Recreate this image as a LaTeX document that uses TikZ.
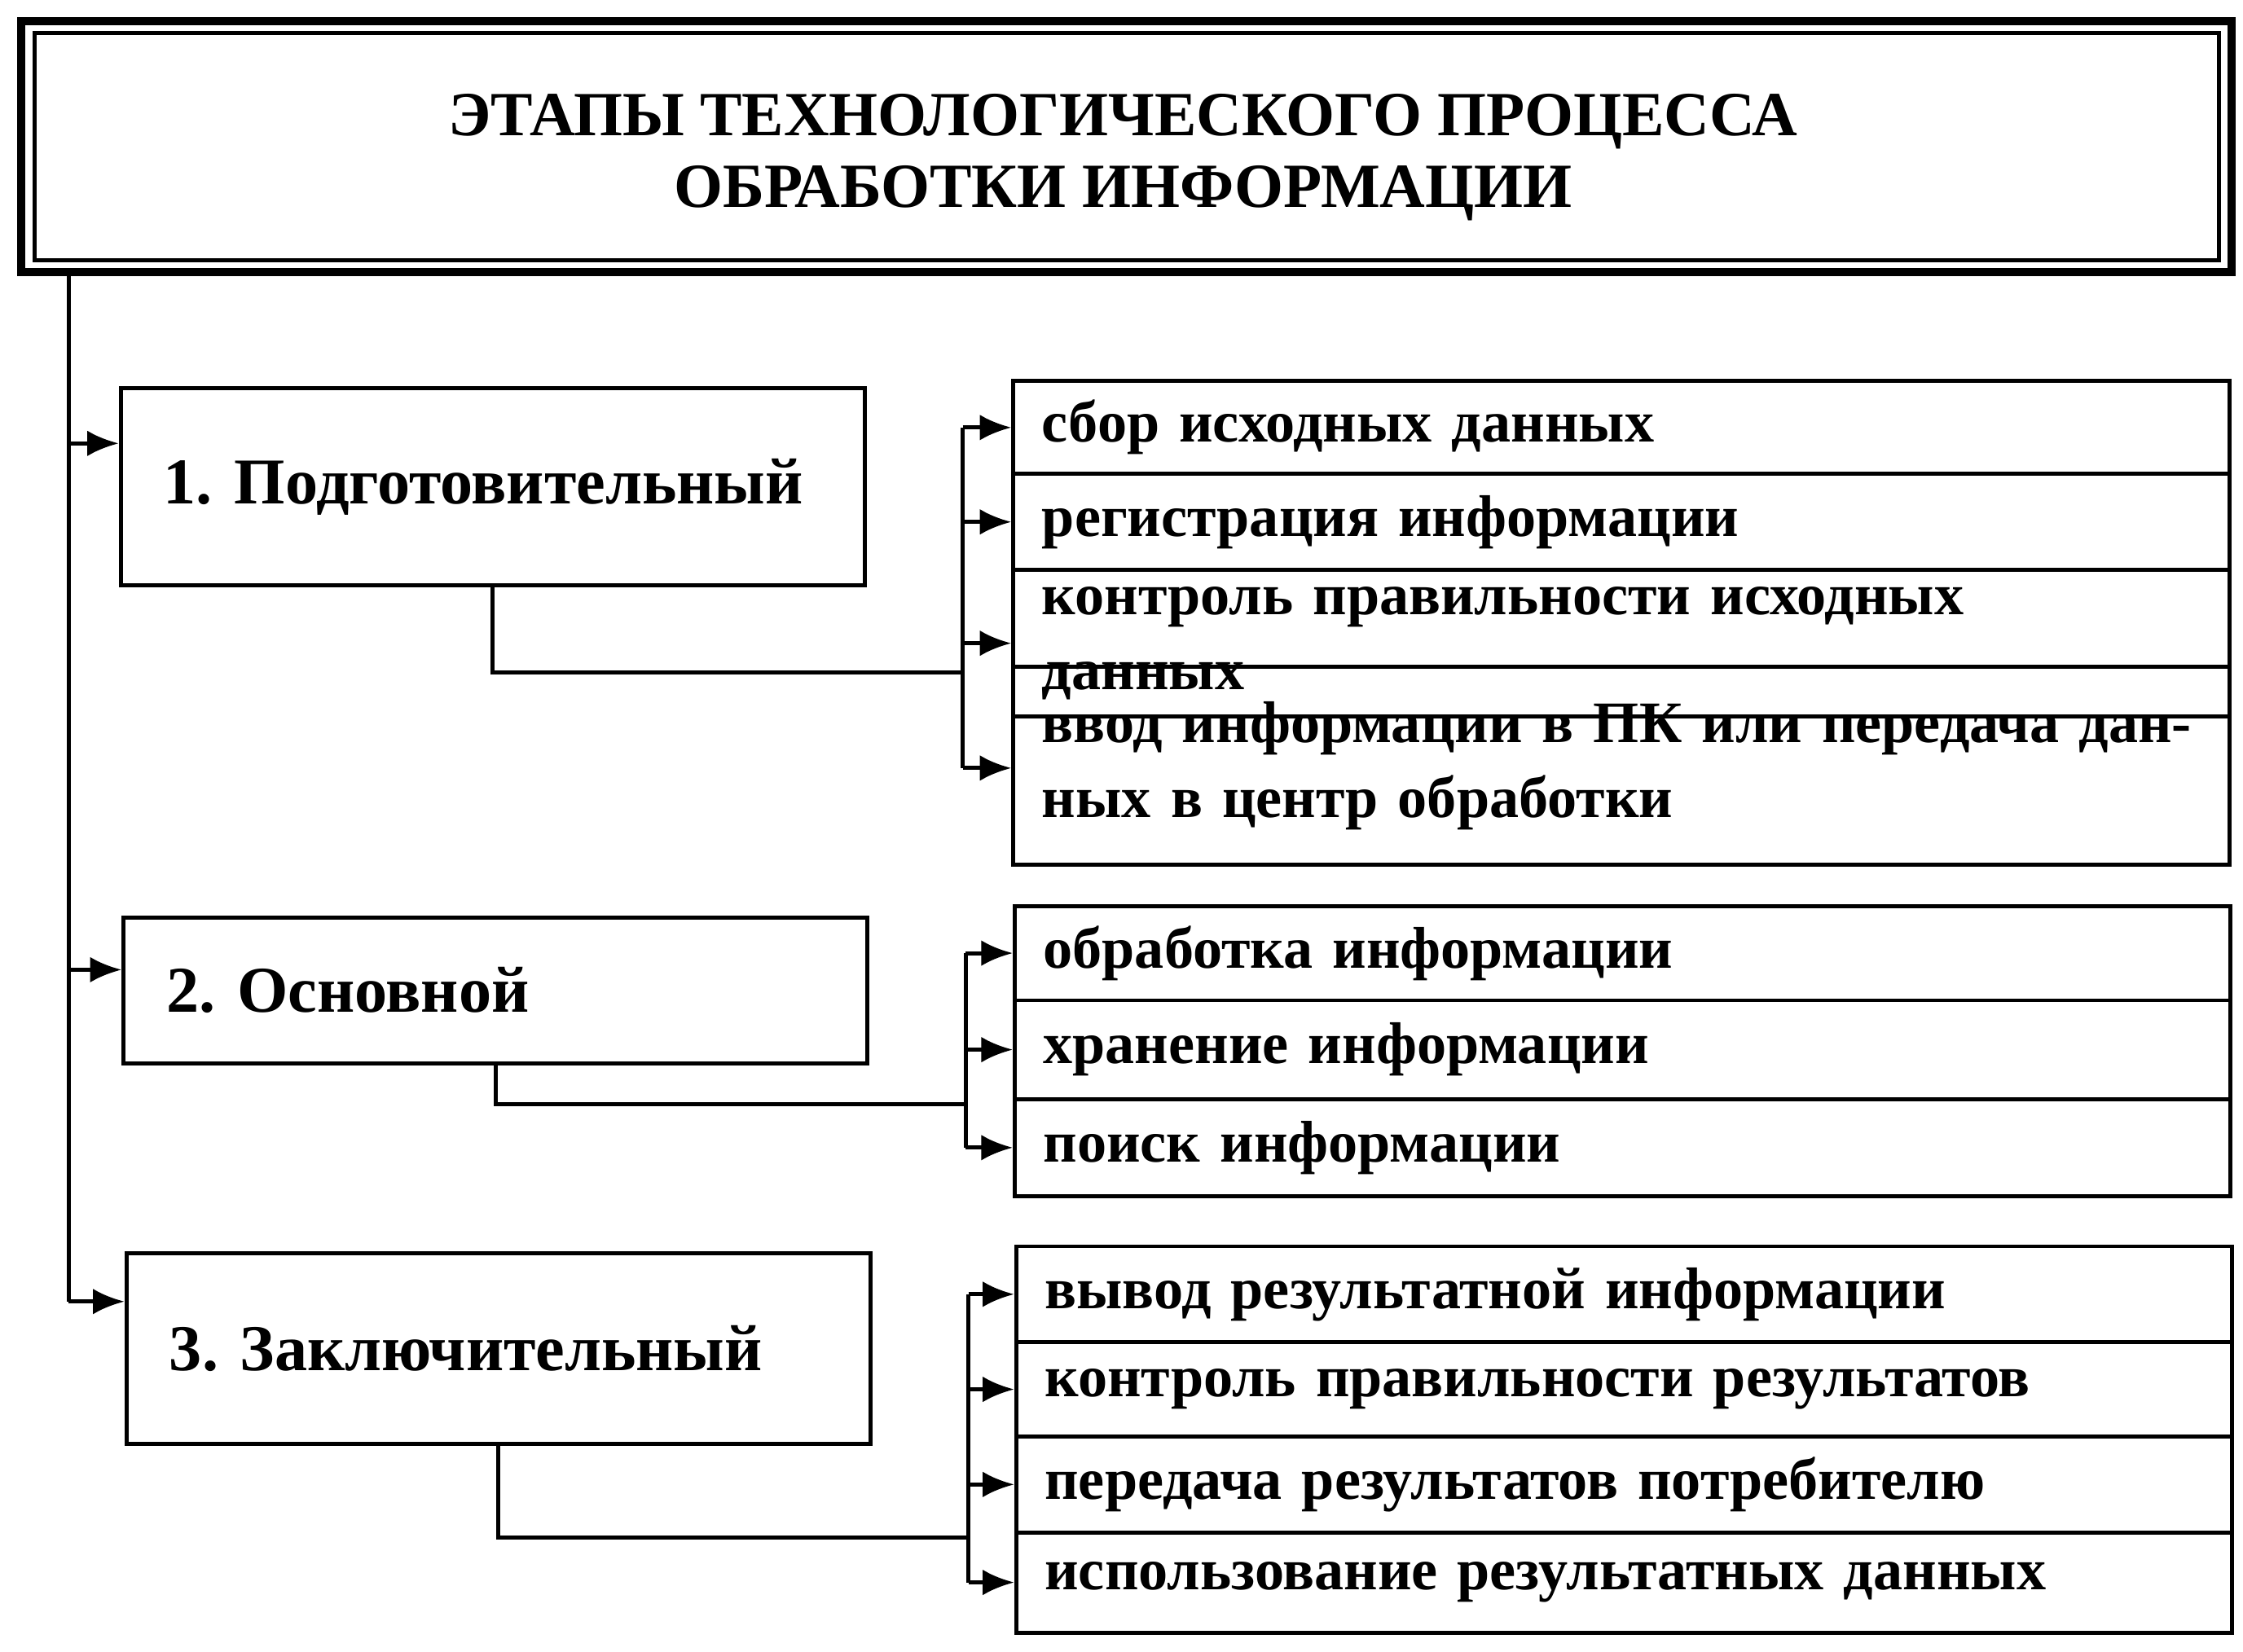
\documentclass[tikz,border=0pt]{standalone}
\usepackage{fontspec}
\setmainfont{Liberation Serif}
\frenchspacing
\usetikzlibrary{arrows.meta,positioning}
\tikzset{
  stage/.style={draw, line width=0.8pt, anchor=north west, font=\fontsize{13}{16}\selectfont\bfseries,
    align=left, inner xsep=0.3cm, text width=4.6cm, minimum height=#1},
  item/.style={draw, line width=0.8pt, anchor=north west, font=\fontsize{11.7}{15}\selectfont\bfseries,
    align=left, inner xsep=0.2cm, text width=8.1cm, minimum height=#1},
  arr/.style={-{Latex[length=2.2mm,width=1.8mm]}, line width=0.8pt},
  link/.style={line width=0.8pt}
}
\begin{document}
\begin{tikzpicture}[x=0.1mm, y=-0.1mm]
    \useasboundingbox (0,0) rectangle (1568,1155);
    % Title
    \draw[line width=1.6pt] (15,15) rectangle (1560,190);
    \draw[line width=0.8pt] (24,23) rectangle (1551,182);
    \node[font=\fontsize{12.5}{14.3}\selectfont\bfseries, align=center] (title) at (785,110)
        {ЭТАПЫ ТЕХНОЛОГИЧЕСКОГО ПРОЦЕССА\\ОБРАБОТКИ ИНФОРМАЦИИ};
    \coordinate (top) at (48,190);
    
    % Stages
    \node[stage=1.38cm] (s1) at (83,270) {1. Подготовительный};
    \node[stage=1.02cm] (s2) at (85,640) {2. Основной};
    \node[stage=1.33cm] (s3) at (87,875) {3. Заключительный};
    
    % Steps of stage 1
    \node[item=0.65cm] (a1) at (707,265) {сбор исходных данных};
    \node[item=0.67cm] (a2) at (707,330) {регистрация информации};
    \node[item=0.68cm] (a3) at (707,397) {контроль правильности исходных\ \ данных};
    \node[item=1.38cm] (a4) at (707,465) {ввод информации в ПК или передача дан-\\ных в центр обработки};
    
    % Steps of stage 2
    \node[item=0.66cm] (b1) at (708,632) {обработка информации};
    \node[item=0.69cm] (b2) at (708,698) {хранение информации};
    \node[item=0.68cm] (b3) at (708,767) {поиск информации};
    
    % Steps of stage 3
    \node[item=0.67cm] (c1) at (709,870) {вывод результатной информации};
    \node[item=0.66cm] (c2) at (709,937) {контроль правильности результатов};
    \node[item=0.67cm] (c3) at (709,1003) {передача результатов потребителю};
    \node[item=0.70cm] (c4) at (709,1070) {использование результатных данных};
    
    % Main line
    \draw[link] (top) -- (48,910);
    \draw[arr] (48,310) -- (s1.west |- 0,310);
    \draw[arr] (48,678) -- (s2.west |- 0,678);
    \draw[arr] (48,910) -- (s3.west |- 0,910);
    
    % Buses
    \coordinate (j1) at (673,470);
    \coordinate (j2) at (675,772);
    \coordinate (j3) at (677,1075);
    \draw[link] (s1.south) |- (j1);
    \draw[link] (s2.south) |- (j2);
    \draw[link] (s3.south) |- (j3);
    \draw[link] (j1 |- a1.west) -- (j1 |- 0,537);
    \draw[link] (j2 |- b1.west) -- (j2 |- b3.west);
    \draw[link] (j3 |- c1.west) -- (j3 |- c4.west);
    \foreach \n in {a1,a2,a3} \draw[arr] (j1 |- \n.west) -- (\n.west);
    \draw[arr] (j1 |- 0,537) -- (a4.west |- 0,537);
    \foreach \n in {b1,b2,b3} \draw[arr] (j2 |- \n.west) -- (\n.west);
    \foreach \n in {c1,c2,c3,c4} \draw[arr] (j3 |- \n.west) -- (\n.west);
\end{tikzpicture}
\end{document}
